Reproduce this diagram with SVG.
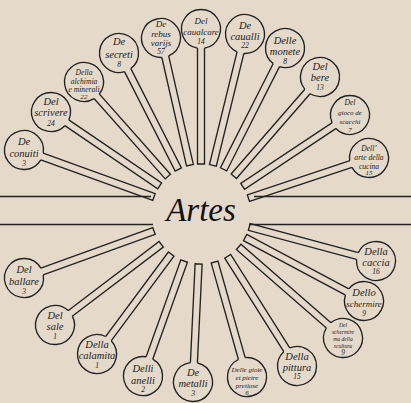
<svg xmlns="http://www.w3.org/2000/svg" xmlns:xlink="http://www.w3.org/1999/xlink" width="411" height="403" viewBox="0 0 411 403">
<style>
.bgc{fill:#e5d9ca;stroke:none}
.ln{fill:none;stroke:#222;stroke-width:1.35}
text{font-family:"Liberation Serif","DejaVu Serif",serif;font-style:italic;fill:#222;text-anchor:middle}
.w{font-size:10.5px}
.m{font-size:9px}
.s{font-size:7.6px}
.x{font-size:7px}
.xx{font-size:5.6px}
.n{font-size:7.5px}
.big{font-size:33px;fill:#111}
</style>
<defs>
<path id="ring" d="M -19.18 -3.5 A 19.5 19.5 0 1 1 -19.18 3.5" class="ln"/>
</defs>
<rect width="411" height="403" fill="#e5d9ca"/>
<g id="hub">
<path class="ln" d="M0 196.5H151M254 196.5H411M0 224.5H153M249 224.5H411"/>
<text class="big" x="201" y="221">Artes</text>
</g>
<g id="connectors" class="ln">
<path transform="translate(201,214) rotate(-160.12)" d="M188.2 -3.5H50V3.5H188.2"/>
<path transform="translate(201,214) rotate(-145.78)" d="M181.4 -3.5H50V3.5H181.4"/>
<path transform="translate(201,214) rotate(-131.55)" d="M176.4 -3.5H50V3.5H176.4"/>
<path transform="translate(201,214) rotate(-117)" d="M180.7 -3.5H50V3.5H180.7"/>
<path transform="translate(201,214) rotate(-102.8)" d="M180.5 -3.5H50V3.5H180.5"/>
<path transform="translate(201,214) rotate(-90)" d="M185 -3.5H50V3.5H185"/>
<path transform="translate(201,214) rotate(-76.26)" d="M185.3 -3.5H50V3.5H185.3"/>
<path transform="translate(201,214) rotate(-63.16)" d="M186 -3.5H50V3.5H186"/>
<path transform="translate(201,214) rotate(-49)" d="M181.5 -3.5H50V3.5H181.5"/>
<path transform="translate(201,214) rotate(-33.6)" d="M178.9 -3.5H50V3.5H178.9"/>
<path transform="translate(201,214) rotate(-18.43)" d="M177.1 -3.5H50V3.5H177.1"/>
<path transform="translate(201,214) rotate(160.12)" d="M188.2 -3.5H50V3.5H188.2"/>
<path transform="translate(201,214) rotate(142.75)" d="M183.4 -3.5H50V3.5H183.4"/>
<path transform="translate(201,214) rotate(126.6)" d="M174.4 -3.5H50V3.5H174.4"/>
<path transform="translate(201,214) rotate(109.7)" d="M172.1 -3.5H50V3.5H172.1"/>
<path transform="translate(201,214) rotate(92.73)" d="M168.2 -3.5H50V3.5H168.2"/>
<path transform="translate(201,214) rotate(74.24)" d="M169.4 -3.5H50V3.5H169.4"/>
<path transform="translate(201,214) rotate(57.72)" d="M179.8 -3.5H50V3.5H179.8"/>
<path transform="translate(201,214) rotate(41.12)" d="M188.5 -3.5H50V3.5H188.5"/>
<path transform="translate(201,214) rotate(28.09)" d="M184.8 -3.5H50V3.5H184.8"/>
<path transform="translate(201,214) rotate(15.03)" d="M181.2 -3.5H50V3.5H181.2"/>
</g>
<g id="n-conuiti" transform="translate(24,150)"><circle r="19.5" class="bgc"/><use xlink:href="#ring" transform="rotate(-160.12)"/>
<text class="w" y="-5">De</text><text class="w" y="7">conuiti</text><text class="n" y="16">3</text></g>
<g id="n-scrivere" transform="translate(51,112)"><circle r="19.5" class="bgc"/><use xlink:href="#ring" transform="rotate(-145.78)"/>
<text class="w" y="-7">Del</text><text class="w" y="4">scrivere</text><text class="n" y="14">24</text></g>
<g id="n-alchimia" transform="translate(84,82)"><circle r="19.5" class="bgc"/><use xlink:href="#ring" transform="rotate(-131.55)"/>
<text class="s" y="-7">Della</text><text class="s" y="1.5">alchimia</text><text class="s" y="10">e minerali</text><text class="x" y="17">22</text></g>
<g id="n-secreti" transform="translate(119,53)"><circle r="19.5" class="bgc"/><use xlink:href="#ring" transform="rotate(-117)"/>
<text class="w" y="-8">De</text><text class="w" y="5">secreti</text><text class="n" y="14">8</text></g>
<g id="n-rebus" transform="translate(161,38)"><circle r="19.5" class="bgc"/><use xlink:href="#ring" transform="rotate(-102.8)"/>
<text class="m" y="-11">De</text><text class="m" y="-1">rebus</text><text class="m" y="8">varijs</text><text class="n" y="16">57</text></g>
<g id="n-caualcare" transform="translate(201,29)"><circle r="19.5" class="bgc"/><use xlink:href="#ring" transform="rotate(-90)"/>
<text class="m" y="-5">Del</text><text class="m" y="6">caualcare</text><text class="n" y="15">14</text></g>
<g id="n-caualli" transform="translate(245,34)"><circle r="19.5" class="bgc"/><use xlink:href="#ring" transform="rotate(-76.26)"/>
<text class="w" y="-5">De</text><text class="w" y="6">caualli</text><text class="n" y="14">22</text></g>
<g id="n-monete" transform="translate(285,48)"><circle r="19.5" class="bgc"/><use xlink:href="#ring" transform="rotate(-63.16)"/>
<text class="w" y="-4">Delle</text><text class="w" y="7">monete</text><text class="n" y="16">8</text></g>
<g id="n-bere" transform="translate(320,77)"><circle r="19.5" class="bgc"/><use xlink:href="#ring" transform="rotate(-49)"/>
<text class="w" y="-7">Del</text><text class="w" y="4">bere</text><text class="n" y="13">13</text></g>
<g id="n-scacchi" transform="translate(350,115)"><circle r="19.5" class="bgc"/><use xlink:href="#ring" transform="rotate(-33.6)"/>
<text class="s" y="-10">Del</text><text class="x" y="0">gioco de</text><text class="x" y="9">scacchi</text><text class="x" y="17">7</text></g>
<g id="n-cucina" transform="translate(369,158)"><circle r="19.5" class="bgc"/><use xlink:href="#ring" transform="rotate(-18.43)"/>
<text class="s" y="-7">Dell’</text><text class="s" y="2">arte della</text><text class="s" y="10.5">cucina</text><text class="x" y="17">15</text></g>
<g id="n-ballare" transform="translate(24,278)"><circle r="19.5" class="bgc"/><use xlink:href="#ring" transform="rotate(160.12)"/>
<text class="w" y="-5">Del</text><text class="w" y="7">ballare</text><text class="n" y="16">3</text></g>
<g id="n-sale" transform="translate(55,325)"><circle r="19.5" class="bgc"/><use xlink:href="#ring" transform="rotate(142.75)"/>
<text class="w" y="-6">Del</text><text class="w" y="5">sale</text><text class="n" y="14">1</text></g>
<g id="n-calamita" transform="translate(97,354)"><circle r="19.5" class="bgc"/><use xlink:href="#ring" transform="rotate(126.6)"/>
<text class="w" y="-6">Della</text><text class="w" y="5">calamita</text><text class="n" y="14">1</text></g>
<g id="n-anelli" transform="translate(143,376)"><circle r="19.5" class="bgc"/><use xlink:href="#ring" transform="rotate(109.7)"/>
<text class="w" y="-4">Delli</text><text class="w" y="8">anelli</text><text class="n" y="16">2</text></g>
<g id="n-metalli" transform="translate(193,382)"><circle r="19.5" class="bgc"/><use xlink:href="#ring" transform="rotate(92.73)"/>
<text class="w" y="-6">De</text><text class="w" y="5">metalli</text><text class="n" y="14">3</text></g>
<g id="n-gioie" transform="translate(247,377)"><circle r="19.5" class="bgc"/><use xlink:href="#ring" transform="rotate(74.24)"/>
<text class="x" y="-5">Delle gioie</text><text class="x" y="3">et pietre</text><text class="x" y="11">pretiose</text><text class="x" y="18">6</text></g>
<g id="n-pittura" transform="translate(297,366)"><circle r="19.5" class="bgc"/><use xlink:href="#ring" transform="rotate(57.72)"/>
<text class="w" y="-6">Della</text><text class="w" y="5">pittura</text><text class="n" y="13">15</text></g>
<g id="n-scultura" transform="translate(343,338)"><circle r="19.5" class="bgc"/><use xlink:href="#ring" transform="rotate(41.12)"/>
<text class="xx" y="-11">Del</text><text class="xx" y="-4">schermire</text><text class="xx" y="3">ma della</text><text class="xx" y="10">scultura</text><text class="n" y="17">9</text></g>
<g id="n-schermire" transform="translate(364,301)"><circle r="19.5" class="bgc"/><use xlink:href="#ring" transform="rotate(28.09)"/>
<text class="w" y="-5">Dello</text><text class="m" y="6">schermire</text><text class="n" y="15">9</text></g>
<g id="n-caccia" transform="translate(376,261)"><circle r="19.5" class="bgc"/><use xlink:href="#ring" transform="rotate(15.03)"/>
<text class="w" y="-6">Della</text><text class="w" y="5">caccia</text><text class="n" y="13">16</text></g>
</svg>
